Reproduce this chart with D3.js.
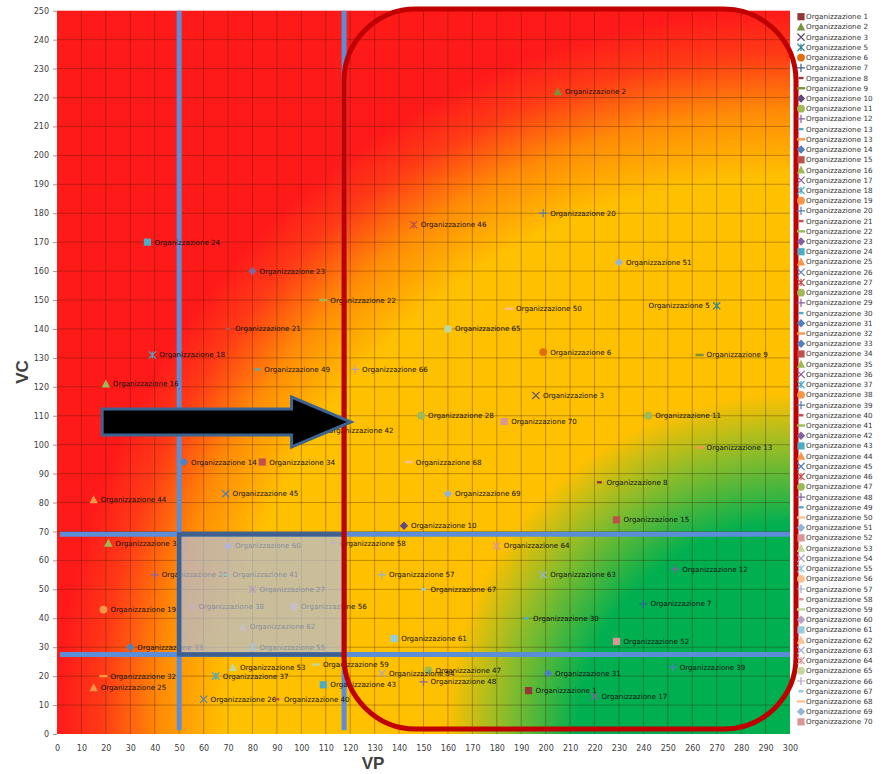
<!DOCTYPE html>
<html><head><meta charset="utf-8">
<script src="https://cdn.jsdelivr.net/npm/d3@7"></script>
<style>body{margin:0;background:#fff}svg{display:block;font-family:"Liberation Sans",Arial,sans-serif}</style>
</head><body><svg id="c" width="884" height="774"></svg>
<script>
// ---------- data ----------
const pointNames = ["1","2","3","5","6","7","8","9","10","11","12","13","14","15","16","17","18","19","20","21","22","23","24","25","26","27","28","29","30","31","32","33","34","35","37","38","39","40","41","42","43","44","45","46","47","48","49","50","51","52","53","54","55","56","57","58","59","60","61","62","63","64","65","66","67","68","69","70"];
const vpValues = [193,205,196,270,199,240,222,263,142,242,253,263,52,229,20,220,39,19,199,70,109,80,37,15,60,80,149,40,192,201,19,30,84,21,65,55,252,90,69,108,109,15,69,146,152,150,82,185,230,229,72,133,80,97,133,113,106,70,138,76,199,180,160,122,150,144,160,183];
const vcValues = [15,222,117,148,132,45,87,131,72,110,57,99,94,74,121,13,131,43,180,140,150,160,170,16,12,50,110,55,40,21,20,30,94,66,20,44,23,12,55,105,17,81,83,176,22,18,126,147,163,32,23,21,30,44,55,66,24,65,33,37,55,65,140,126,50,94,83,108];
const leftLabelled = ["5"];
const legendNames = ["1","2","3","5","6","7","8","9","10","11","12","13","13","14","15","16","17","18","19","20","21","22","23","24","25","26","27","28","29","30","31","32","33","34","35","36","37","38","39","40","41","42","43","44","45","46","47","48","49","50","51","52","53","54","55","56","57","58","59","60","61","62","63","64","65","66","67","68","69","70"];
const xTickValues = [0,10,20,30,40,50,60,70,80,90,100,110,120,130,140,150,160,170,180,190,200,210,220,230,240,250,260,270,280,290,300];
const yTickValues = [0,10,20,30,40,50,60,70,80,90,100,110,120,130,140,150,160,170,180,190,200,210,220,230,240,250];
const thresholdVP = [50, 117.5];
const thresholdVC = [69, 27.5];

// ---------- styles ----------
const legendMarkers = ["sq","tri","x","star","circle","plus","sdash","ldash","diamond","circle","plus","sdash","ldash","diamond",
 "sq","tri","x","star","circle","plus","sdash","ldash","diamond","sq","tri","x","star","circle","plus","sdash","diamond","ldash","diamond",
 "sq","tri","x","star","circle","plus","sdash","ldash","diamond","sq","tri","x","star","circle","plus","sdash",
 "ldash","diamond","sq","tri","x","star","circle","plus","sdash","ldash","diamond","sq","tri","x","star","circle","plus","sdash","ldash","diamond","sq"];
const pal = {
  d:{red:"#953735",green:"#77933C",purple:"#604A7B",teal:"#31859C",orange:"#E46C0A",blue:"#376092"},
  n:{red:"#C0504D",green:"#9BBB59",purple:"#8064A2",teal:"#4BACC6",orange:"#F79646",blue:"#4F81BD"},
  l:{red:"#D99694",green:"#C3D69B",purple:"#B3A2C7",teal:"#93CDDD",orange:"#FAC090",blue:"#95B3D7"}
};
const legendHue = ["red","green","purple","teal","orange","blue","red","green","purple","green","purple","teal","orange","blue",
 "red","green","purple","teal","orange","blue","red","green","purple","teal","orange","blue","red","green","purple","teal","blue","orange","blue",
 "red","green","purple","teal","orange","blue","red","green","purple","teal","orange","blue","red","green","purple","teal",
 "orange","blue","red","green","purple","teal","orange","blue","red","green","purple","teal","orange","blue","red","green","purple","teal","orange","blue","red"];
function shadeOf(i){ return i < 9 ? "d" : (i < 49 ? "n" : "l"); }
function styleFor(i){ return {m: legendMarkers[i], c: pal[shadeOf(i)][legendHue[i]]}; }
const labelFont = "DejaVu Sans, Verdana, sans-serif";

// ---------- layout ----------
const svg = d3.select("#c");
const x = d3.scaleLinear().domain([0,300]).range([57,790]);
const y = d3.scaleLinear().domain([0,250]).range([734,10.7]);

const defs = svg.append("defs");
const rg = defs.append("radialGradient").attr("id","bg")
  .attr("cx",1).attr("cy",1).attr("r",1).attr("fx",1).attr("fy",1);
[[0,"#00B050"],[0.29,"#00B050"],[0.39,"#8CBC2A"],[0.47,"#FFC000"],[0.77,"#FFC000"],[0.86,"#FF8C06"],[0.94,"#FF3A16"],[1,"#FF1A1A"]]
  .forEach(s=>rg.append("stop").attr("offset",s[0]).attr("stop-color",s[1]));

svg.append("rect").attr("x",x(0)).attr("y",y(250)).attr("width",x(300)-x(0)).attr("height",y(0)-y(250)).attr("fill","url(#bg)");

// grid
const grid = svg.append("g").attr("stroke","#3a1a00").attr("stroke-opacity",0.33).attr("stroke-width",1);
xTickValues.slice(1,-1).forEach(v=>grid.append("line").attr("x1",x(v)).attr("x2",x(v)).attr("y1",y(0)).attr("y2",y(250)));
yTickValues.slice(1,-1).forEach(v=>grid.append("line").attr("y1",y(v)).attr("y2",y(v)).attr("x1",x(0)).attr("x2",x(300)));

// axes
const ax = svg.append("g").attr("transform",`translate(0,${y(0)})`)
  .call(d3.axisBottom(x).tickValues(xTickValues).tickSize(0).tickPadding(11));
const ay = svg.append("g").attr("transform",`translate(${x(0)},0)`)
  .call(d3.axisLeft(y).tickValues(yTickValues).tickSize(4).tickPadding(4));
[ax,ay].forEach(a=>{a.select(".domain").remove();a.selectAll("text").attr("font-size",8).attr("fill","#404040").attr("font-family",labelFont);a.selectAll("line").attr("stroke","#999");});
svg.append("text").attr("x",373).attr("y",769).attr("text-anchor","middle").attr("font-weight","bold").attr("font-size",17).attr("fill","#404040").text("VP");
svg.append("text").attr("transform","translate(28,372) rotate(-90)").attr("text-anchor","middle").attr("font-weight","bold").attr("font-size",17).attr("fill","#404040").text("VC");

// threshold lines
const tl = svg.append("g").attr("stroke","#5B8ED6").attr("stroke-width",5);
thresholdVP.forEach(v=>tl.append("line").attr("x1",x(v)).attr("x2",x(v)).attr("y1",y(250)).attr("y2",y(1.3)));
thresholdVC.forEach(v=>tl.append("line").attr("y1",y(v)).attr("y2",y(v)).attr("x1",x(1.2)).attr("x2",x(300)));

// markers
function drawMarker(g, type, color){
  const s = 3.6;
  if(type==="sq") g.append("rect").attr("x",-s).attr("y",-s).attr("width",2*s).attr("height",2*s).attr("fill",color);
  else if(type==="tri") g.append("path").attr("d",`M0,${-s-0.8}L${s+0.6},${s}L${-s-0.6},${s}Z`).attr("fill",color);
  else if(type==="diamond") g.append("path").attr("d",`M0,${-s-0.6}L${s+0.6},0L0,${s+0.6}L${-s-0.6},0Z`).attr("fill",color);
  else if(type==="circle") g.append("circle").attr("r",s+0.3).attr("fill",color);
  else if(type==="x") g.append("path").attr("d",`M${-s},${-s}L${s},${s}M${-s},${s}L${s},${-s}`).attr("stroke",color).attr("stroke-width",1.2);
  else if(type==="star") g.append("path").attr("d",`M${-s},${-s}L${s},${s}M${-s},${s}L${s},${-s}M0,${-s}V${s}`).attr("stroke",color).attr("stroke-width",1.2);
  else if(type==="plus") g.append("path").attr("d",`M${-s-0.5},0H${s+0.5}M0,${-s-0.5}V${s+0.5}`).attr("stroke",color).attr("stroke-width",1.2);
  else if(type==="sdash") g.append("rect").attr("x",-2.5).attr("y",-1.2).attr("width",5).attr("height",2.4).attr("fill",color);
  else if(type==="ldash") g.append("rect").attr("x",-s-0.5).attr("y",-1.2).attr("width",2*s+1).attr("height",2.4).attr("fill",color);
}

// points
const pts = svg.append("g");
pointNames.forEach((n,i)=>{
  const li = legendNames.lastIndexOf(n);
  const st = styleFor(li);
  const g = pts.append("g").attr("transform",`translate(${x(vpValues[i])},${y(vcValues[i])})`);
  drawMarker(g, st.m, st.c);
  const left = leftLabelled.includes(n);
  g.append("text").attr("x",left?-7:7).attr("y",2.5).attr("text-anchor",left?"end":"start")
    .attr("font-size",7.1).attr("font-family",labelFont).attr("fill","#111").text("Organizzazione " + n);
});

// grey box between thresholds
svg.append("rect").attr("x",x(thresholdVP[0])).attr("y",y(thresholdVC[0]))
  .attr("width",x(thresholdVP[1])-x(thresholdVP[0])).attr("height",y(thresholdVC[1])-y(thresholdVC[0]))
  .attr("fill","#B4BEDC").attr("fill-opacity",0.7).attr("stroke","#3F5F8F").attr("stroke-width",4.5);

// red rounded frame
svg.append("rect").attr("x",x(117.5)).attr("y",9).attr("width",796-x(117.5)).attr("height",720)
  .attr("rx",72).attr("ry",72).attr("fill","none").attr("stroke","#C00000").attr("stroke-width",5);

// arrow
svg.append("path")
  .attr("d",`M${x(18.5)},409 H${x(96)} V397 L${x(120.3)},422 L${x(96)},447 V435 H${x(18.5)} Z`)
  .attr("fill","#000").attr("stroke","#3D6491").attr("stroke-width",3).attr("stroke-linejoin","miter");

// legend
const lg = svg.append("g");
legendNames.forEach((n,i)=>{
  const st = styleFor(i);
  const yy = 16.7 + i*10.22;
  const g = lg.append("g").attr("transform",`translate(801,${yy})`);
  drawMarker(g, st.m, st.c);
  g.append("text").attr("x",5).attr("y",2.5).attr("font-size",7.2).attr("font-family",labelFont).attr("fill","#333").text("Organizzazione " + n);
});
</script></body></html>
